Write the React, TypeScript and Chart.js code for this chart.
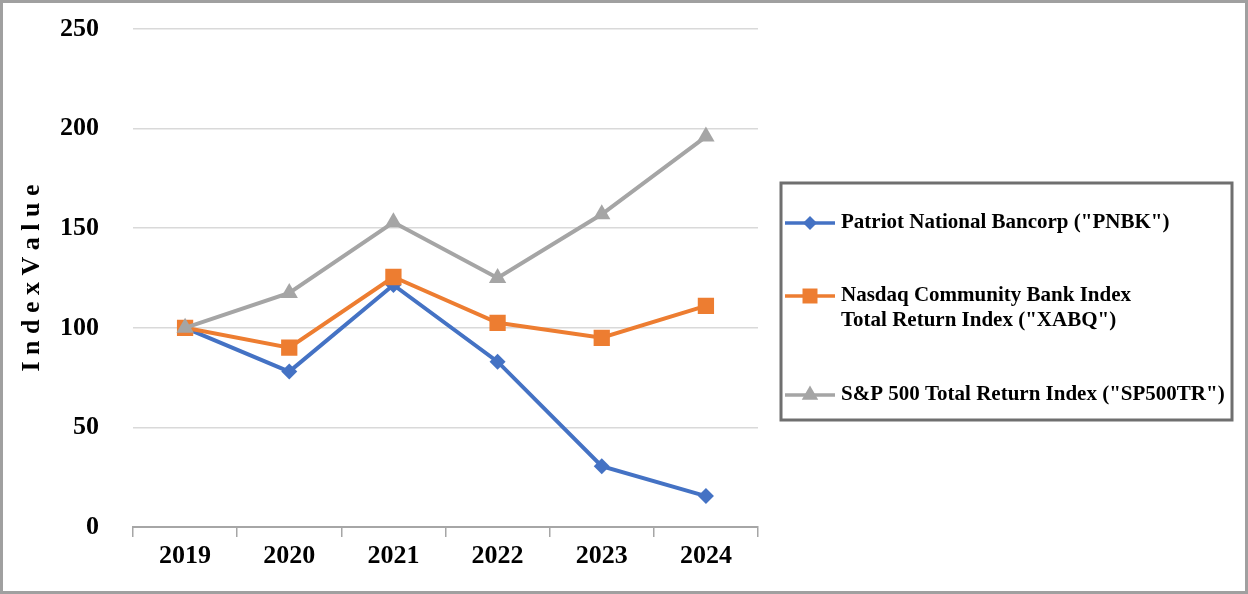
import React, { useEffect, useRef } from "react";
import { Chart, registerables } from "chart.js";

Chart.register(...registerables);

const categories = ["2019", "2020", "2021", "2022", "2023", "2024"];
const pnbkValues = [100, 78, 121.5, 83, 30.5, 15.5];
const xabqValues = [100, 90, 125.5, 102.5, 95, 111];
const sp500Values = [100, 117.5, 153, 125, 157, 196];
const seriesLabels = [
  'Patriot National Bancorp ("PNBK")',
  'Nasdaq Community Bank Index\nTotal Return Index ("XABQ")',
  'S&P 500 Total Return Index ("SP500TR")',
];
const seriesColors = ["#4472C4", "#ED7D31", "#A5A5A5"];
const yMin = 0;
const yMax = 250;
const yStep = 50;
const yTitle = "I n d e x V a l u e";

const FONT = "'Liberation Serif', 'Times New Roman', serif";

function drawMarker(ctx: CanvasRenderingContext2D, style: string, x: number, y: number, r: number, color: string) {
  ctx.save();
  ctx.fillStyle = color;
  ctx.beginPath();
  if (style === "rectRot") {
    ctx.moveTo(x, y - r);
    ctx.lineTo(x + r, y);
    ctx.lineTo(x, y + r);
    ctx.lineTo(x - r, y);
  } else if (style === "rect") {
    const s = r * Math.SQRT1_2;
    ctx.rect(x - s, y - s, 2 * s, 2 * s);
  } else {
    ctx.moveTo(x, y - r);
    ctx.lineTo(x + (r * Math.sqrt(3)) / 2, y + r / 2);
    ctx.lineTo(x - (r * Math.sqrt(3)) / 2, y + r / 2);
  }
  ctx.closePath();
  ctx.fill();
  ctx.restore();
}

const boxLegend = {
  id: "boxLegend",
  afterDraw(chart: any) {
    const ctx: CanvasRenderingContext2D = chart.ctx;
    const bx = 778;
    const by = 180;
    const bw = 451;
    const bh = 237;
    ctx.save();
    ctx.strokeStyle = "#6f6f6f";
    ctx.lineWidth = 3;
    ctx.strokeRect(bx, by, bw, bh);
    const itemOffsets = [40, 113, 212];
    const markerRadius = [7, 10.6, 9.5];
    chart.data.datasets.forEach((ds: any, i: number) => {
      const y = by + itemOffsets[i];
      ctx.strokeStyle = ds.borderColor;
      ctx.lineWidth = 3.5;
      ctx.beginPath();
      ctx.moveTo(bx + 4, y);
      ctx.lineTo(bx + 54, y);
      ctx.stroke();
      drawMarker(ctx, ds.pointStyle, bx + 29, y, markerRadius[i], ds.borderColor);
      ctx.fillStyle = "#000";
      ctx.font = `bold 21px ${FONT}`;
      ctx.textBaseline = "middle";
      ctx.textAlign = "left";
      String(ds.label)
        .split("\n")
        .forEach((line: string, j: number) => {
          ctx.fillText(line, bx + 60, y + j * 25);
        });
    });
    ctx.restore();
  },
};

export default function App() {
  const canvasRef = useRef<HTMLCanvasElement | null>(null);

  useEffect(() => {
    document.body.style.margin = "0";
    const canvas = canvasRef.current;
    if (!canvas) return;
    const chart = new Chart(canvas, {
      type: "line",
      data: {
        labels: categories,
        datasets: [
          {
            label: seriesLabels[0],
            data: pnbkValues,
            borderColor: seriesColors[0],
            backgroundColor: seriesColors[0],
            borderWidth: 4,
            pointStyle: "rectRot",
            pointRadius: 8,
            pointBorderWidth: 0,
            order: 2,
          },
          {
            label: seriesLabels[1],
            data: xabqValues,
            borderColor: seriesColors[1],
            backgroundColor: seriesColors[1],
            borderWidth: 4,
            pointStyle: "rect",
            pointRadius: 11.5,
            pointBorderWidth: 0,
            order: 1,
          },
          {
            label: seriesLabels[2],
            data: sp500Values,
            borderColor: seriesColors[2],
            backgroundColor: seriesColors[2],
            borderWidth: 4,
            pointStyle: "triangle",
            pointRadius: 10,
            pointBorderWidth: 0,
            order: 0,
          },
        ],
      },
      options: {
        animation: false,
        responsive: false,
        layout: { padding: { top: 26, right: 487, bottom: 0, left: 0 } },
        plugins: {
          legend: { display: false },
          tooltip: { enabled: false },
        },
        scales: {
          x: {
            offset: true,
            grid: {
              offset: true,
              drawOnChartArea: false,
              drawTicks: true,
              tickLength: 10,
              color: "#a6a6a6",
              lineWidth: 1.5,
            },
            border: { display: true, color: "#a6a6a6", width: 2 },
            ticks: {
              color: "#000",
              font: { family: FONT, size: 26, weight: "bold" },
              padding: 4,
              maxRotation: 0,
            },
            afterFit: (scale: any) => {
              scale.height = 64;
            },
          },
          y: {
            min: yMin,
            max: yMax,
            grid: {
              color: "#d9d9d9",
              lineWidth: 1.5,
              drawTicks: true,
              tickLength: 30,
              tickColor: "rgba(0,0,0,0)",
            },
            border: { display: false },
            ticks: {
              stepSize: yStep,
              color: "#000",
              font: { family: FONT, size: 26, weight: "bold" },
              padding: 4,
            },
            title: {
              display: true,
              text: yTitle,
              color: "#000",
              font: { family: FONT, size: 26, weight: "bold" },
              padding: { top: 14, bottom: 0 },
            },
            afterFit: (scale: any) => {
              scale.width = 130;
            },
          },
        },
      } as any,
      plugins: [boxLegend],
    });
    return () => chart.destroy();
  }, []);

  return (
    <div
      style={{
        width: 1248,
        height: 594,
        border: "3px solid #a0a0a0",
        boxSizing: "border-box",
        position: "relative",
        background: "#fff",
      }}
    >
      <canvas ref={canvasRef} width={1242} height={588} style={{ display: "block" }} />
    </div>
  );
}
